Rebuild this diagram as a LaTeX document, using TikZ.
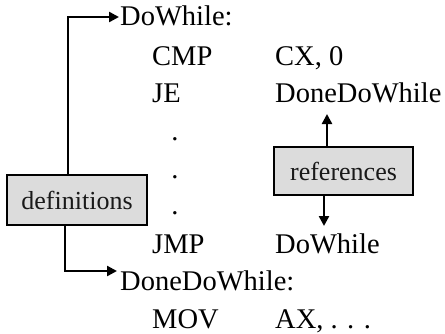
\documentclass[tikz,border=0pt]{standalone}
\usepackage{fontspec}
\setmainfont{Liberation Serif}
\usetikzlibrary{arrows.meta}
\definecolor{boxgray}{RGB}{220,220,220}
\tikzset{
  code/.style={anchor=base west, inner sep=0pt, font=\fontsize{28.5}{30}\selectfont},
  dotc/.style={anchor=base, inner sep=0pt, font=\fontsize{28.5}{30}\selectfont},
  labelbox/.style={draw=black, line width=2.4pt, fill=boxgray, inner sep=0pt,
     font=\fontsize{26}{28}\selectfont, text=black!90},
  link/.style={line width=2.4pt, -{Triangle[length=10pt,width=10pt]}},
}
\begin{document}
\begin{tikzpicture}[x=1pt,y=-1pt]
\useasboundingbox (0,0) rectangle (445,333);
% code lines
\node[code] (l1) at (120,25) {DoWhile:};
\node[code] (l2a) at (152,65) {CMP};
\node[code] (l2b) at (275,65) {CX, 0};
\node[code] (l3a) at (152,102) {JE};
\node[code] (l3b) at (275,102) {DoneDoWhile};
\node[dotc] (d1) at (175,140) {.};
\node[dotc] (d2) at (175,178) {.};
\node[dotc] (d3) at (175,214) {.};
\node[code] (l4a) at (152,253) {JMP};
\node[code] (l4b) at (275,253) {DoWhile};
\node[code] (l5) at (120,290) {DoneDoWhile:};
\node[code] (l6a) at (152,328) {MOV};
\node[code] (l6b) at (275,328) {AX, . . .};
% boxes
\node[labelbox, minimum width=140pt, minimum height=50pt] (defs) at (77,200) {definitions};
\node[labelbox, minimum width=139pt, minimum height=48pt] (refs) at (343.5,171) {references};
% arrow end points
\coordinate (tip1) at (119,17);
\coordinate (tip2) at (117,271);
\coordinate (tip3) at (327,114);
\coordinate (tip4) at (324,226);
% connectors
\draw[link] (defs.north -| 68,0) |- (tip1);
\draw[link] (defs.south -| 65,0) |- (tip2);
\draw[link] (refs.north -| 327,0) -- (tip3);
\draw[link] (refs.south -| 324,0) -- (tip4);
\end{tikzpicture}
\end{document}
